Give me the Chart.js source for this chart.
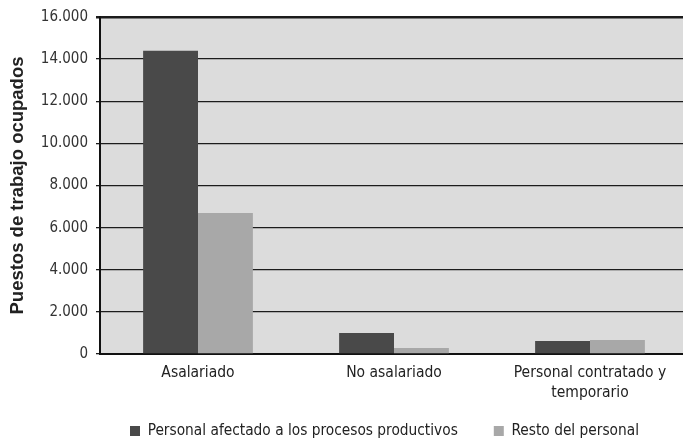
<!DOCTYPE html>
<html>
<head>
<meta charset="utf-8">
<script src="https://cdn.jsdelivr.net/npm/chart.js@4/dist/chart.umd.min.js"></script>
<style>
  html, body { margin: 0; padding: 0; background: #fff; overflow: hidden; }
  #wrap { position: relative; width: 690px; height: 446px; }
</style>
</head>
<body>
<div id="wrap"><canvas id="chart"></canvas></div>
<script>
(function () {
    'use strict';

    var categories = ['Asalariado', 'No asalariado', ['Personal contratado y', 'temporario']];
    var seriesNames = ['Personal afectado a los procesos productivos', 'Resto del personal'];
    var productivos = [14400, 1000, 620];
    var resto = [6700, 290, 660];
    var yTicks = [0, 2000, 4000, 6000, 8000, 10000, 12000, 14000, 16000];

    var FONT = "'Liberation Sans Narrow', 'DejaVu Sans Condensed', 'Liberation Sans', sans-serif";
    var LEGEND_PAD = 36;
    var LEGEND_SIZE = 15.3;

    function fmt(v) {
        return String(v).replace(/\B(?=(\d{3})+(?!\d))/g, '.');
    }

    var plotBg = {
        id: 'plotBg',
        beforeDraw: function (chart) {
            var a = chart.chartArea;
            var ctx = chart.ctx;
            ctx.save();
            ctx.fillStyle = '#dcdcdc';
            ctx.fillRect(a.left, a.top, a.right - a.left, a.bottom - a.top);
            ctx.restore();
        }
    };

    // move the legend row to where the reference has it
    var legendShift = {
        id: 'legendShift',
        afterLayout: function (chart) {
            var lg = chart.legend;
            if (!lg || !lg.lineWidths) return;
            var start = (lg.left + LEGEND_PAD + lg.right - lg.lineWidths[0]) / 2;
            var dx = 130 - start;
            var dy = (431 - LEGEND_PAD - LEGEND_SIZE / 2) - lg.top;
            lg.left += dx;
            lg.right += dx;
            lg.top += dy;
            lg.bottom += dy;
        }
    };

    new Chart(document.getElementById('chart'), {
        type: 'bar',
        data: {
            labels: categories,
            datasets: [
                { label: seriesNames[0], data: productivos, backgroundColor: '#494949', borderWidth: 0 },
                { label: seriesNames[1], data: resto, backgroundColor: '#a8a8a8', borderWidth: 0 }
            ]
        },
        options: {
            responsive: true,
            maintainAspectRatio: false,
            animation: false,
            layout: { padding: { top: 17, right: 2, left: 0, bottom: 46 - (LEGEND_SIZE + LEGEND_PAD + 10) } },
            datasets: { bar: { categoryPercentage: 0.56, barPercentage: 1 } },
            plugins: {
                legend: {
                    position: 'bottom',
                    labels: {
                        boxWidth: 10,
                        boxHeight: 10,
                        padding: LEGEND_PAD,
                        color: '#222',
                        font: { family: FONT, size: LEGEND_SIZE }
                    }
                },
                tooltip: { enabled: false }
            },
            scales: {
                x: {
                    grid: { display: false, drawTicks: false },
                    border: { display: true, color: '#111', width: 2 },
                    ticks: {
                        color: '#222',
                        padding: 9,
                        font: { family: FONT, size: 15.5, lineHeight: 1.28 },
                        maxRotation: 0,
                        autoSkip: false
                    },
                    afterFit: function (scale) { scale.height = 46; }
                },
                y: {
                    min: 0,
                    max: 16000,
                    afterBuildTicks: function (scale) {
                        scale.ticks = yTicks.map(function (v) { return { value: v }; });
                    },
                    grid: {
                        color: '#1c1c1c',
                        lineWidth: function (c) { return c.tick && c.tick.value === 16000 ? 2.5 : 1.3; },
                        tickLength: 4
                    },
                    border: { display: true, color: '#111', width: 2 },
                    ticks: {
                        color: '#333',
                        padding: 8,
                        font: { family: FONT, size: 15 },
                        callback: function (v) { return fmt(v); }
                    },
                    title: {
                        display: true,
                        text: 'Puestos de trabajo ocupados',
                        color: '#222',
                        padding: { top: 7, bottom: 0 },
                        font: { family: "'Liberation Sans', Arial, sans-serif", size: 18.5, weight: 'bold' }
                    },
                    afterFit: function (scale) { scale.width = 100; }
                }
            }
        },
        plugins: [plotBg, legendShift]
    });
})();
</script>
</body>
</html>
